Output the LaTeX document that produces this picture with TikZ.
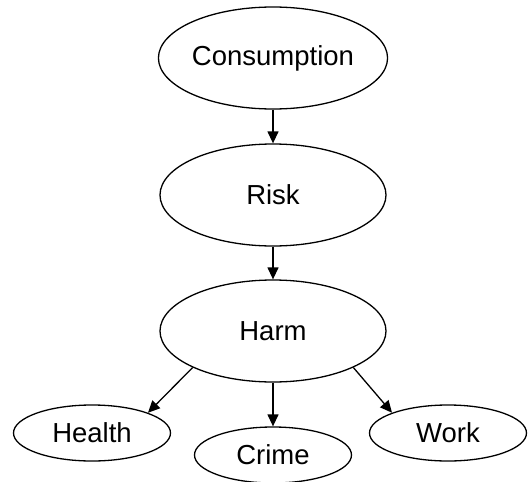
\documentclass[tikz,border=0pt]{standalone}
\usepackage{fontspec}
\setmainfont{Liberation Sans}
\usetikzlibrary{shapes.geometric, positioning, arrows.meta}

\begin{document}
\begin{tikzpicture}[on grid, line width=1.3pt,
    bigell/.style={draw, ellipse, inner sep=0pt, minimum width=226pt, minimum height=102pt, font=\fontsize{27.5}{33}\selectfont},
    smallell/.style={draw, ellipse, inner sep=0pt, minimum width=157pt, minimum height=56pt, font=\fontsize{27.5}{33}\selectfont},
    arr/.style={-{Triangle[length=12pt, width=11pt]}}]
        \useasboundingbox (0pt,0pt) rectangle (528pt,-482pt);

        \node[bigell] (cons) at (273pt,-58pt) {Consumption};
        \node[bigell, below=137pt of cons] (risk) {Risk};
        \node[bigell, below=136pt of risk] (harm) {Harm};

        \node[smallell, below left=102pt and 181pt of harm] (health) {Health};
        \node[smallell, below=124pt of harm] (crime) {Crime};
        \node[smallell, below right=102pt and 175pt of harm] (work) {Work};

        \draw[arr] (cons) -- (risk);
        \draw[arr] (risk) -- (harm);
        \draw[arr] (harm.south west) -- (health.north east);
        \draw[arr] (harm) -- (crime);
        \draw[arr] (harm.south east) -- (work.north west);
\end{tikzpicture}
\end{document}
